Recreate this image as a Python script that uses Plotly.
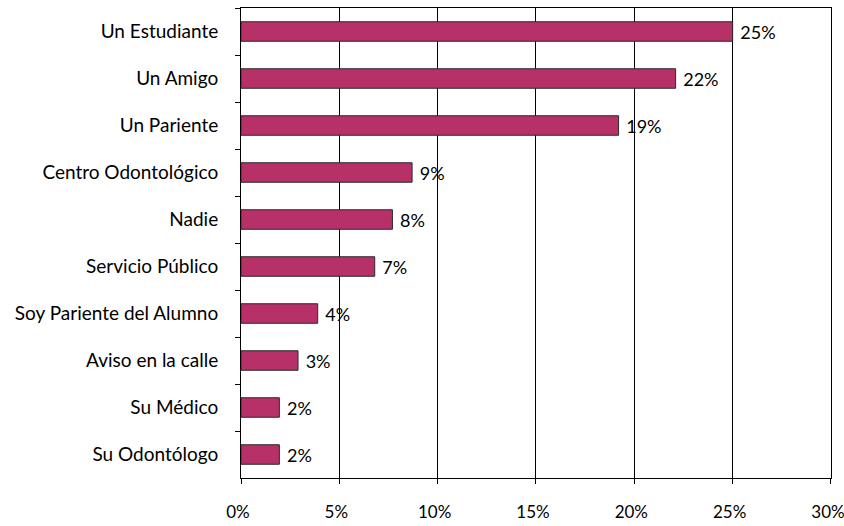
import plotly.graph_objects as go

categories = ["Un Estudiante", "Un Amigo", "Un Pariente", "Centro Odontológico", "Nadie",
              "Servicio Público", "Soy Pariente del Alumno", "Aviso en la calle", "Su Médico", "Su Odontólogo"]
values = [25.0, 22.1, 19.2, 8.7, 7.7, 6.8, 3.9, 2.9, 1.95, 1.95]
x_ticks = [0, 5, 10, 15, 20, 25, 30]
x_tick_labels = ["0%", "5%", "10%", "15%", "20%", "25%", "30%"]

font_family = "Lato, 'Open Sans', sans-serif"

fig = go.Figure(go.Bar(
    y=categories, x=values, orientation="h",
    marker=dict(color="#B83068", line=dict(color="#2a2a2a", width=1)),
    texttemplate=" %{x:.0f}%", textposition="outside", constraintext="none",
    textfont=dict(size=18, color="black", family=font_family),
    cliponaxis=False,
))

fig.update_layout(
    width=844, height=526,
    margin=dict(l=241, r=13, t=8, b=48),
    plot_bgcolor="white", paper_bgcolor="white",
    bargap=0.585, showlegend=False,
    font=dict(family=font_family, size=19, color="black"),
)
fig.update_xaxes(
    range=[0, 30.001], tickvals=x_ticks, ticktext=x_tick_labels,
    showgrid=True, gridcolor="black", gridwidth=1,
    showline=True, linecolor="black", linewidth=1, mirror=True,
    ticks="outside", ticklen=5, tickcolor="black",
    ticklabelstandoff=14, ticklabeloverflow="allow", ticklabelshift=-3,
    zeroline=False, automargin=False,
    tickfont=dict(size=17),
)
fig.update_yaxes(
    autorange="reversed", categoryorder="array", categoryarray=categories,
    showline=True, linecolor="black", linewidth=1, mirror=True,
    ticks="outside", ticklen=5, tickcolor="black", tickson="boundaries",
    ticklabelstandoff=18, showgrid=False, automargin=False,
)

fig.write_html(
    "out.html",
    config={"displayModeBar": False},
    post_script="document.body.style.margin='0';document.body.style.overflow='hidden';",
)
